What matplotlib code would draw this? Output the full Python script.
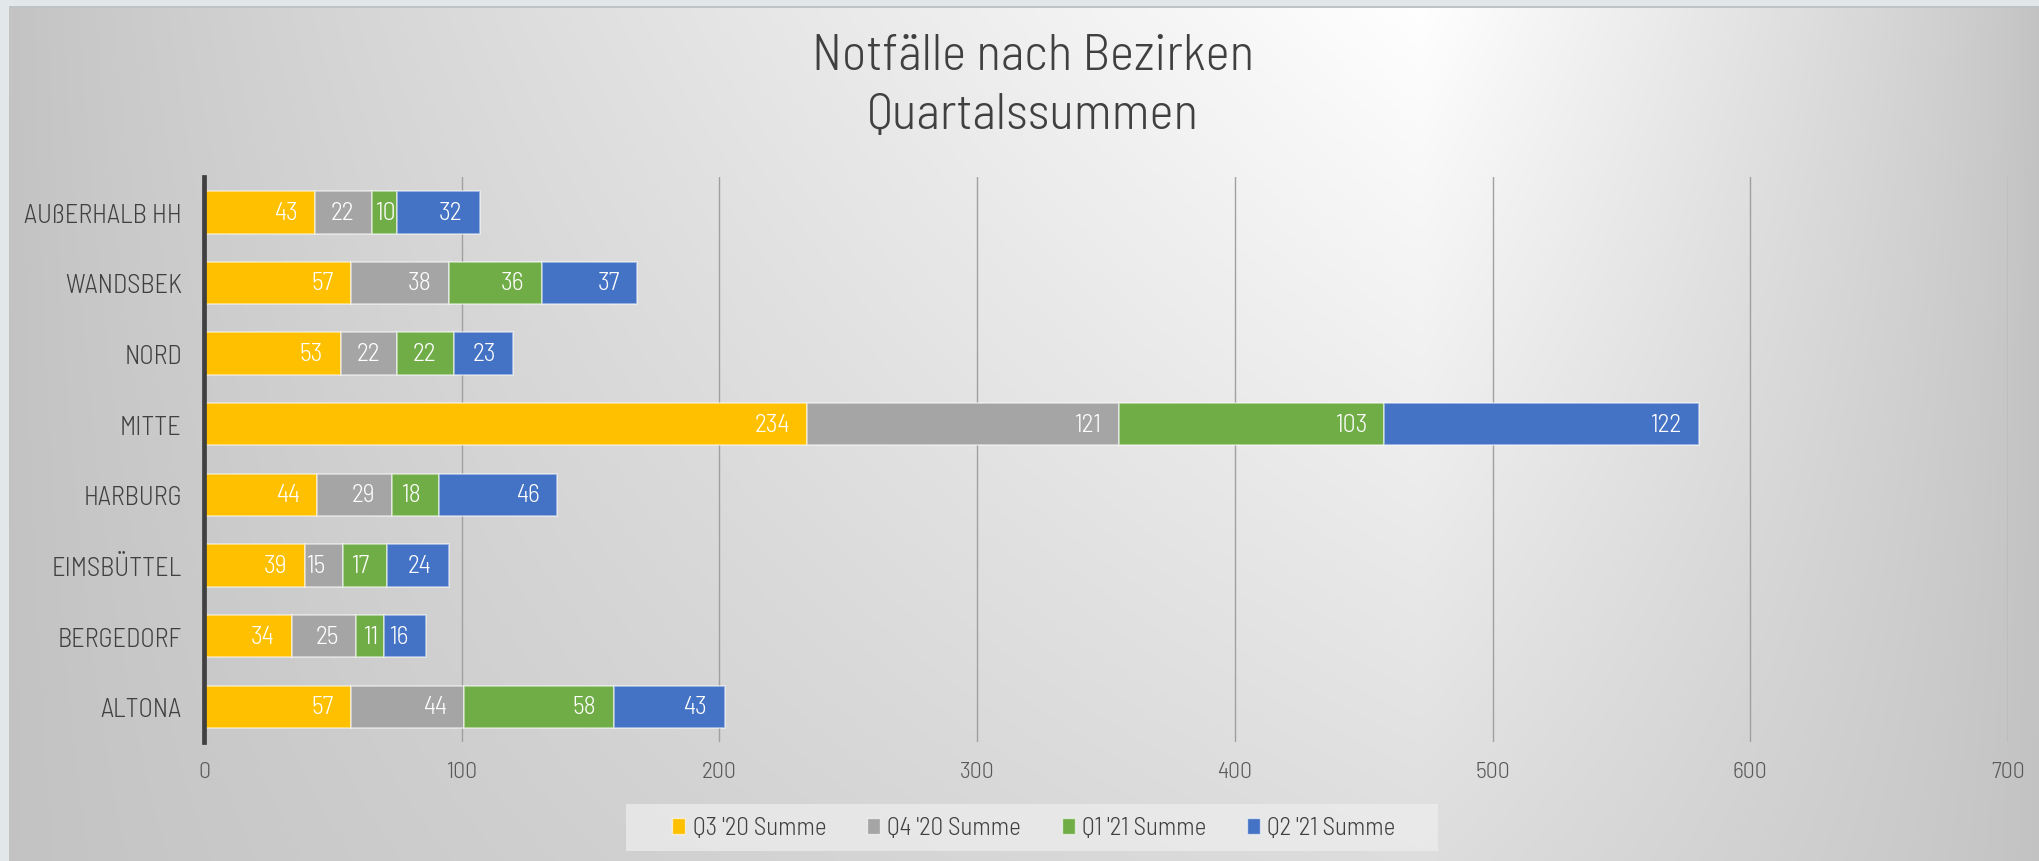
import numpy as np
import matplotlib
matplotlib.use("Agg")
import matplotlib.pyplot as plt
from matplotlib.patches import Patch, Rectangle

plt.rcParams['font.family'] = ['Barlow Semi Condensed', 'DejaVu Sans']
plt.rcParams['font.weight'] = 300

categories = ["AUßERHALB HH", "WANDSBEK", "NORD", "MITTE", "HARBURG",
              "EIMSBÜTTEL", "BERGEDORF", "ALTONA"]
series_names = ["Q3 '20 Summe", "Q4 '20 Summe", "Q1 '21 Summe", "Q2 '21 Summe"]
q3_20 = [43, 57, 53, 234, 44, 39, 34, 57]
q4_20 = [22, 38, 22, 121, 29, 15, 25, 44]
q1_21 = [10, 36, 22, 103, 18, 17, 11, 58]
q2_21 = [32, 37, 23, 122, 46, 24, 16, 43]
colors = ["#FFC000", "#A5A5A5", "#70AD47", "#4472C4"]
xticks = [0, 100, 200, 300, 400, 500, 600, 700]

W, H = 2040, 862
fig = plt.figure(figsize=(W / 100, H / 100), dpi=100)

# background gradient
bg = fig.add_axes([0, 0, 1, 1], zorder=-10)
xs = np.arange(W)
ys = np.arange(H)
X, Y = np.meshgrid(xs, ys)
peak = 1420.0
h = np.where(X < peak, X / peak, 1 - (X - peak) / (W - peak))
h = np.clip(h, 0, 1) ** 0.8
G = 194.0
val = G + (255 - G) * h * (1 - 0.55 * Y / H)
img = np.dstack([val, val, val]) / 255.0
frame = np.array([0xe2, 0xe7, 0xea]) / 255.0
img[:7, :, :] = frame
img[7:9, :, :] = np.array([0xbf, 0xc3, 0xc6]) / 255.0
img[:, :9, :] = frame
bg.imshow(img, extent=[0, W, H, 0], aspect='auto', interpolation='bilinear')
bg.set_xlim(0, W)
bg.set_ylim(H, 0)
bg.axis('off')

ax = fig.add_axes([204 / W, 1 - 743 / H, (2008 - 204) / W, (743 - 178) / H])
ax.set_facecolor('none')

ypos = np.arange(len(categories))
data = [q3_20, q4_20, q1_21, q2_21]
left = np.zeros(len(categories))
ax.set_xlim(0, 700)
ax.set_ylim(len(categories) - 0.5, -0.5)

px_per_unit = (2008 - 204) / 700.0
for vals, col, name in zip(data, colors, series_names):
    vals = np.array(vals, dtype=float)
    ax.barh(ypos, vals, left=left, height=0.6, color=col,
            edgecolor=(1, 1, 1, 0.55), linewidth=1.2, label=name, zorder=3)
    for yi, (l, v) in enumerate(zip(left, vals)):
        end = l + v
        seg_px = v * px_per_unit
        if seg_px >= 38:
            ax.annotate(f"{int(v)}", xy=(end, yi), xytext=(-12.5, 0),
                        textcoords='offset points', ha='right', va='center',
                        color='white', fontsize=18.5, zorder=4)
        else:
            ax.annotate(f"{int(v)}", xy=(l + v / 2, yi), xytext=(0.5, 0),
                        textcoords='offset points', ha='center', va='center',
                        color='white', fontsize=18.5, zorder=4)
    left = left + vals

ax.set_yticks(ypos)
ax.set_yticklabels(categories, fontsize=19, color='#404040')
ax.set_xticks(xticks)
ax.set_xticklabels([str(t) for t in xticks], fontsize=17, color='#595959')
ax.tick_params(axis='both', length=0)
ax.tick_params(axis='y', pad=16)
ax.tick_params(axis='x', pad=14)
ax.grid(axis='x', color='#a0a0a0', linewidth=1.0, zorder=0)
ax.set_axisbelow(True)
for s in ['top', 'right', 'bottom']:
    ax.spines[s].set_visible(False)
ax.spines['left'].set_color('#404040')
ax.spines['left'].set_linewidth(3.4)
ax.spines['left'].set_zorder(5)

fig.text(1033 / W, 1 - 57 / H, "Notfälle nach Bezirken", ha='center', va='center',
         fontsize=37, color='#404040')
fig.text(1033 / W, 1 - 116 / H, "Quartalssummen", ha='center', va='center',
         fontsize=37, color='#404040')

# legend background box
fig.patches.append(Rectangle((626 / W, 1 - 852 / H), (1438 - 626) / W, (852 - 805) / H,
                             transform=fig.transFigure, facecolor='#ededed', alpha=0.75,
                             edgecolor='none', zorder=1))
handles = [Patch(facecolor=c, edgecolor=(1, 1, 1, 0.6), linewidth=1) for c in colors]
leg = fig.legend(handles, series_names, loc='center', bbox_to_anchor=(1034 / W, 1 - 829 / H),
                 ncol=4, fontsize=18, frameon=False, handlelength=0.52, handleheight=0.62,
                 handletextpad=0.3, columnspacing=1.62, borderpad=0.2)
for t in leg.get_texts():
    t.set_color('#404040')

fig.savefig("out.png", dpi=100)
